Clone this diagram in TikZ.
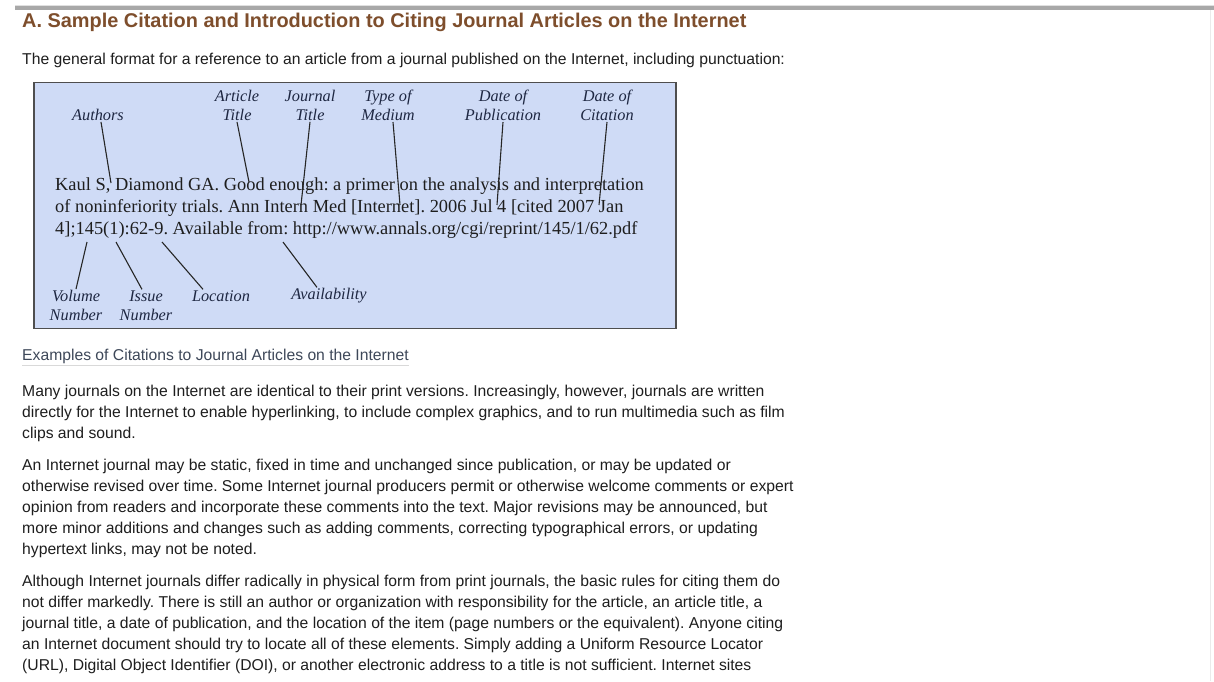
\documentclass[tikz,border=0pt]{standalone}
\usepackage{fontspec}
\setmainfont{Liberation Serif}
\newfontfamily\websans{Liberation Sans}
\newfontfamily\webbold{Liberation Sans Bold}
\frenchspacing
\usetikzlibrary{calc}
\definecolor{headbrown}{HTML}{7E4E2C}
\definecolor{bodyink}{HTML}{1E1E1E}
\definecolor{linkink}{HTML}{3E4859}
\definecolor{boxfill}{HTML}{CFDBF6}
\definecolor{boxedge}{HTML}{4E4E4E}
\definecolor{labink}{HTML}{1E2742}
\definecolor{citeink}{HTML}{1E1E1E}
\definecolor{bargray}{HTML}{A8A8A8}
\tikzset{
  bodyline/.style={anchor=base west, inner sep=0pt, text=bodyink, font=\websans\fontsize{15.7}{18}\selectfont},
  citeline/.style={anchor=base west, inner sep=0pt, text=citeink, font=\fontsize{18.4}{22}\selectfont},
  lab/.style={inner sep=1pt, align=center, text=labink, font=\itshape\fontsize{16.3}{19}\selectfont},
  pointer/.style={draw=black!85, line width=1.1pt},
}
\begin{document}
\begin{tikzpicture}[x=1pt,y=-1pt]
\useasboundingbox (0,0) rectangle (1214,681);
\fill[white] (0,0) rectangle (1214,681);
% top bar and right edge
\fill[bargray] (15,6) rectangle (1214,9.5);
\fill[black!12] (15,5) rectangle (1214,6);
\draw[black!8, line width=1pt] (1210,10) -- (1210,681);
% heading and intro
\node[anchor=base west, inner sep=0pt, text=headbrown, font=\webbold\fontsize{19.9}{22}\selectfont] (head) at (22,27)
  {A. Sample Citation and Introduction to Citing Journal Articles on the Internet};
\node[bodyline] (intro) at (22,64.5) {The general format for a reference to an article from a journal published on the Internet, including punctuation:};
% citation box
\node[draw=boxedge, line width=1.8pt, fill=boxfill, minimum width=642pt, minimum height=246pt, inner sep=0pt] (box) at (355,205.5) {};
\node[citeline] (c1) at (55,190.5) {Kaul S, Diamond GA. Good enough: a primer on the analysis and interpretation};
\node[citeline] (c2) at (55,212.5) {of noninferiority trials. Ann Intern Med [Internet]. 2006 Jul 4 [cited 2007 Jan};
\node[citeline] (c3) at (55,234.5) {4];145(1):62-9. Available from: http://www.annals.org/cgi/reprint/145/1/62.pdf};
% top labels
\node[lab] (authors) at (98,115) {Authors};
\node[lab] (arttitle) at (237,105.5) {Article\\Title};
\node[lab] (jtitle) at (310,105.5) {Journal\\Title};
\node[lab] (medium) at (388,105.5) {Type of\\Medium};
\node[lab] (pubdate) at (503,105.5) {Date of\\Publication};
\node[lab] (citdate) at (607,105.5) {Date of\\Citation};
% bottom labels
\node[lab] (volume) at (76,305.5) {Volume\\Number};
\node[lab] (issue) at (146,305.5) {Issue\\Number};
\node[lab] (location) at (221,296) {Location};
\node[lab] (avail) at (329,296) {Availability};
% pointer targets in the citation
\coordinate (tAuthors) at (111,183);
\coordinate (tArt) at (249,182);
\coordinate (tJour) at (301,205);
\coordinate (tMed) at (400,205);
\coordinate (tPub) at (497,205);
\coordinate (tCit) at (599,205);
\coordinate (tVol) at (87,242);
\coordinate (tIss) at (116,242);
\coordinate (tLoc) at (162,242);
\coordinate (tAva) at (283,242);
% pointers
\draw[pointer] ([xshift=3pt]authors.south) -- (tAuthors);
\draw[pointer] (arttitle.south) -- (tArt);
\draw[pointer] (jtitle.south) -- (tJour);
\draw[pointer] ([xshift=5pt]medium.south) -- (tMed);
\draw[pointer] (pubdate.south) -- (tPub);
\draw[pointer] (citdate.south) -- (tCit);
\draw[pointer] (tVol) -- (volume.north);
\draw[pointer] (tIss) -- ([xshift=-4pt]issue.north);
\draw[pointer] (tLoc) -- ([xshift=-18pt]location.north);
\draw[pointer] (tAva) -- ([xshift=-12pt]avail.north);
% examples link
\node[anchor=base west, inner sep=0pt, text=linkink, font=\websans\fontsize{15.7}{18}\selectfont] (examples) at (22,360.5)
  {Examples of Citations to Journal Articles on the Internet};
\draw[black!15, line width=0.8pt] ([yshift=-4.5pt]examples.base west) -- ([yshift=-4.5pt]examples.base east);
% paragraphs
\node[bodyline] (p1a) at (22,396.7) {Many journals on the Internet are identical to their print versions. Increasingly, however, journals are written};
\node[bodyline] (p1b) at (22,417.7) {directly for the Internet to enable hyperlinking, to include complex graphics, and to run multimedia such as film};
\node[bodyline] (p1c) at (22,438.7) {clips and sound.};
\node[bodyline] (p2a) at (22,470.7) {An Internet journal may be static, fixed in time and unchanged since publication, or may be updated or};
\node[bodyline] (p2b) at (22,491.7) {otherwise revised over time. Some Internet journal producers permit or otherwise welcome comments or expert};
\node[bodyline] (p2c) at (22,512.7) {opinion from readers and incorporate these comments into the text. Major revisions may be announced, but};
\node[bodyline] (p2d) at (22,533.7) {more minor additions and changes such as adding comments, correcting typographical errors, or updating};
\node[bodyline] (p2e) at (22,554.7) {hypertext links, may not be noted.};
\node[bodyline] (p3a) at (22,586.7) {Although Internet journals differ radically in physical form from print journals, the basic rules for citing them do};
\node[bodyline] (p3b) at (22,607.7) {not differ markedly. There is still an author or organization with responsibility for the article, an article title, a};
\node[bodyline] (p3c) at (22,628.7) {journal title, a date of publication, and the location of the item (page numbers or the equivalent). Anyone citing};
\node[bodyline] (p3d) at (22,649.7) {an Internet document should try to locate all of these elements. Simply adding a Uniform Resource Locator};
\node[bodyline] (p3e) at (22,670.7) {(URL), Digital Object Identifier (DOI), or another electronic address to a title is not sufficient. Internet sites};
\end{tikzpicture}
\end{document}
